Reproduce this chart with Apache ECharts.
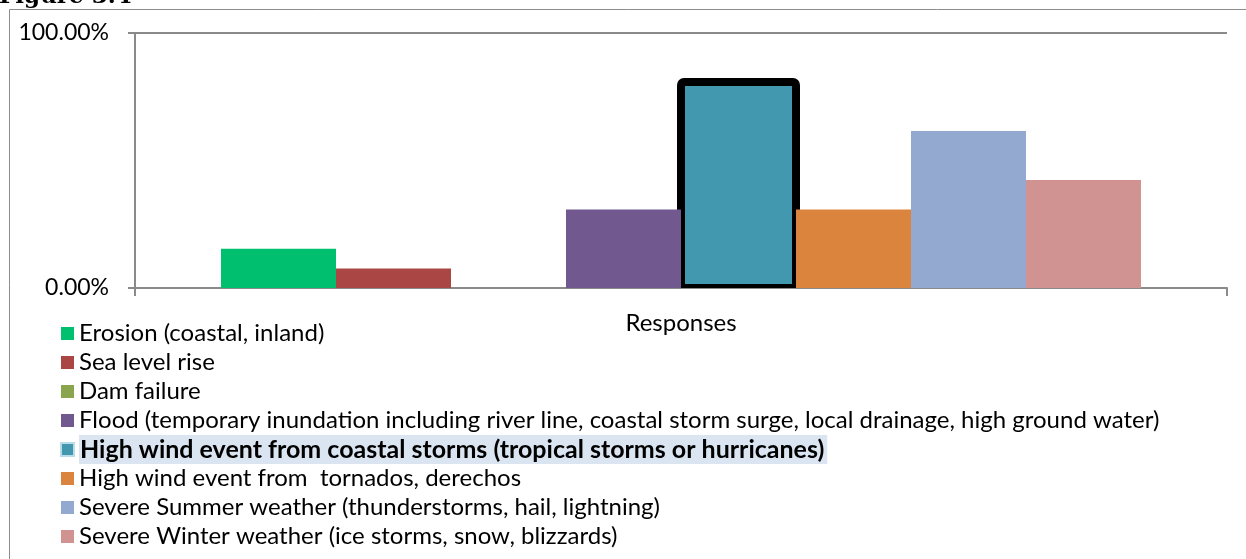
<!DOCTYPE html>
<html>
<head>
<meta charset="utf-8">
<script src="https://cdn.jsdelivr.net/npm/echarts@6/dist/echarts.min.js"></script>
<style>
  html, body { margin: 0; padding: 0; background: #fff; }
  #chart { width: 1246px; height: 559px; }
</style>
</head>
<body>
<div id="chart"></div>
<script>
// Hazard categories (one bar each) and share of responses, in percent
const categories = ['Responses'];
const hazards = [
  'Erosion (coastal, inland)',
  'Sea level rise',
  'Dam failure',
  'Flood (temporary inundation including river line, coastal storm surge, local drainage, high ground water)',
  'High wind event from coastal storms (tropical storms or hurricanes)',
  'High wind event from  tornados, derechos',
  'Severe Summer weather (thunderstorms, hail, lightning)',
  'Severe Winter weather (ice storms, snow, blizzards)'
];
const shares = [15.38, 7.69, 0, 30.77, 80.77, 30.77, 61.54, 42.31];
const colors = ['#00bf6f', '#aa4643', '#89a54e', '#71588f', '#4198af', '#db843d', '#93a9cf', '#d19392'];
const yTicks = [0, 100];
const highlighted = 4; // selected hazard, outlined in black

const FONT = 'Lato, "Liberation Sans", sans-serif';
const AXIS = '#8a8a8a';
const CATEGORY_GAP = 0.1575;

const chart = echarts.init(document.getElementById('chart'), null, { renderer: 'canvas' });

const series = [];
hazards.forEach((name, i) => {
  series.push({
    name: name,
    type: 'bar',
    z: i === highlighted ? 1 : 2,
    data: [shares[i]],
    barGap: '0%',
    barCategoryGap: (CATEGORY_GAP * 100) + '%',
    itemStyle: { color: colors[i] },
    emphasis: { disabled: true }
  });
  if (i === highlighted) {
    // thick outline centred on the edges of the selected bar
    series.push({
      type: 'custom',
      z: 2,
      silent: true,
      clip: true,
      data: [[0, shares[i]]],
      renderItem: (params, api) => {
        const top = api.coord([api.value(0), api.value(1)]);
        const base = api.coord([api.value(0), 0]);
        const catW = api.size([1, 0])[0];
        const barW = catW * (1 - CATEGORY_GAP) / hazards.length;
        const x = base[0] - catW * (1 - CATEGORY_GAP) / 2 + i * barW;
        return {
          type: 'rect',
          shape: { x: x, y: top[1], width: barW, height: base[1] - top[1], r: 3 },
          style: { fill: 'none', stroke: '#000', lineWidth: 8 }
        };
      }
    });
  }
});

chart.setOption({
  animation: false,
  color: colors,
  grid: { left: 135, right: 19, top: 33, bottom: 271, containLabel: false },
  graphic: [
    {
      type: 'rect',
      shape: { x: 9.5, y: 9.5, width: 1400, height: 700 },
      style: { fill: 'none', stroke: '#8c8c8c', lineWidth: 1 },
      silent: true
    },
    {
      type: 'text',
      left: -1, top: -14,
      style: { text: 'Figure 3.4', font: 'bold 23px "DejaVu Serif", serif', fill: '#000' },
      silent: true
    }
  ],
  xAxis: {
    type: 'category',
    data: categories,
    boundaryGap: true,
    axisLine: { show: true, lineStyle: { color: AXIS, width: 2 } },
    axisTick: { show: true, length: 8, lineStyle: { color: AXIS, width: 2 } },
    axisLabel: { color: '#000', fontFamily: FONT, fontSize: 24, margin: 23 },
    splitLine: { show: false }
  },
  yAxis: {
    type: 'value',
    min: yTicks[0],
    max: yTicks[yTicks.length - 1],
    interval: yTicks[1] - yTicks[0],
    axisLine: { show: true, lineStyle: { color: AXIS, width: 2 } },
    axisTick: { show: true, length: 7, lineStyle: { color: AXIS, width: 2 } },
    axisLabel: {
      color: '#000', fontFamily: FONT, fontSize: 23, margin: 26,
      formatter: v => v.toFixed(2) + '%'
    },
    splitLine: { show: true, lineStyle: { color: AXIS, width: 2 } }
  },
  legend: {
    orient: 'vertical',
    left: 60,
    top: 319,
    icon: 'rect',
    itemWidth: 13,
    itemHeight: 13,
    itemGap: 0,
    padding: 0,
    selectedMode: false,
    textStyle: { color: '#000', fontFamily: FONT, fontSize: 24, lineHeight: 29 },
    data: hazards.map((name, i) => i === highlighted
      ? {
          name: name,
          textStyle: { fontWeight: 'bold', fontSize: 25, backgroundColor: '#dbe5f1', padding: [0, 3, 0, 1] },
          itemStyle: { color: colors[i], borderColor: '#b9dde8', borderWidth: 2 }
        }
      : { name: name, itemStyle: { borderWidth: 0 } })
  },
  series: series
});
</script>
</body>
</html>
